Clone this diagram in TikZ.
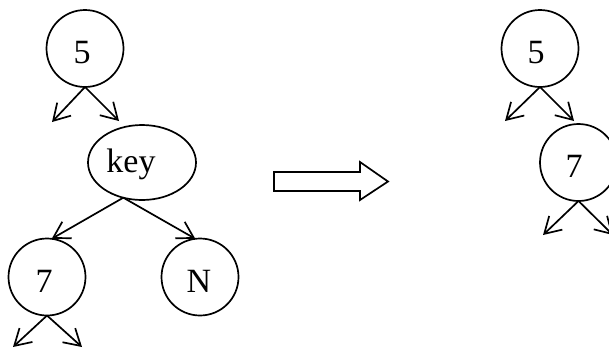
\documentclass[tikz,border=0pt]{standalone}
\usepackage{fontspec}
\setmainfont{Liberation Serif}
\usetikzlibrary{arrows.meta,shapes.geometric}
\begin{document}
\begin{tikzpicture}[x=1pt,y=-1pt,
  line width=1.7pt,
  treenode/.style={circle,draw,minimum size=77pt,inner sep=0pt,outer sep=0pt},
  keynode/.style={ellipse,draw,minimum width=108pt,minimum height=75pt,inner sep=0pt,outer sep=0pt},
  numtext/.style={anchor=base,inner sep=0pt,font=\fontsize{34}{40}\selectfont},
  link/.style={-{Straight Barb[length=16pt,width=19pt]}},
  ]
\useasboundingbox (0,0) rectangle (609,349);
\clip (0,0) rectangle (609,349);

% ---- tree before the insertion ----
\node[treenode] (a5) at (85,48.5) {};
\node[numtext] (a5t) at (82,63.5) {5};
\coordinate (a5l) at (52,122);
\coordinate (a5r) at (119,121);
\draw[link] (a5.south) -- (a5l);
\draw[link] (a5.south) -- (a5r);

\node[keynode] (key) at (142,162.5) {};
\node[numtext] (keyt) at (131,172) {key};

\node[treenode] (a7) at (47,277) {};
\node[numtext] (a7t) at (44,292) {7};
\node[treenode] (aN) at (200,277) {};
\node[numtext] (aNt) at (199,292) {N};

\draw[link] (key.242) -- (a7.83);
\draw[link] (key.242) -- (aN.97);

\coordinate (a7l) at (13,347);
\coordinate (a7r) at (82,347);
\draw[link] (a7.south) -- (a7l);
\draw[link] (a7.south) -- (a7r);

% ---- hollow transition arrow ----
\draw[line join=miter] (274,172) -- (360,172) -- (360,162) -- (388,181.5)
  -- (360,200) -- (360,191) -- (274,191) -- cycle;

% ---- tree after the deletion ----
\node[treenode] (b5) at (540,48.5) {};
\node[numtext] (b5t) at (536,63.5) {5};
\coordinate (b5l) at (505,121);
\coordinate (b5r) at (574,121);
\draw[link] (b5.south) -- (b5l);
\draw[link] (b5.south) -- (b5r);

\node[treenode] (b7) at (578.5,162.5) {};
\node[numtext] (b7t) at (574,177) {7};
\coordinate (b7l) at (543,235);
\coordinate (b7r) at (613,235);
\draw[link] (b7.south) -- (b7l);
\draw[link] (b7.south) -- (b7r);
\end{tikzpicture}
\end{document}
